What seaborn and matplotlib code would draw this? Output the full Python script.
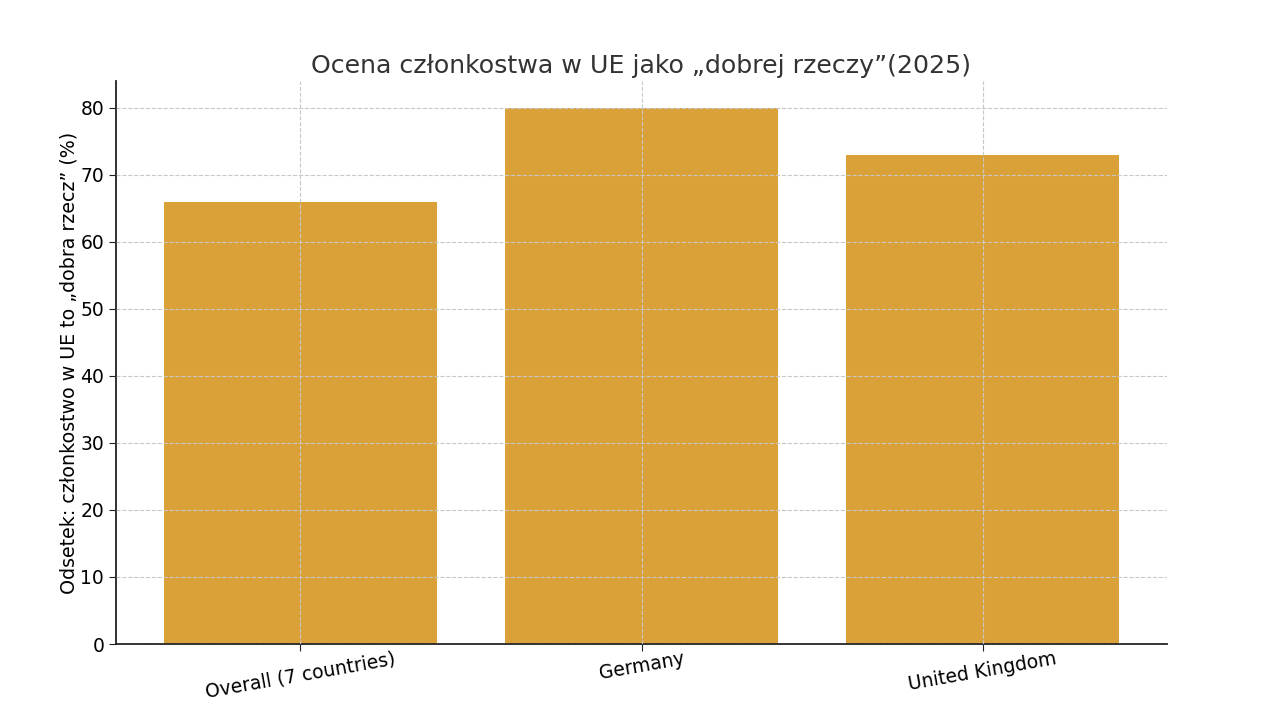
import matplotlib
matplotlib.use("Agg")
import matplotlib.pyplot as plt
import seaborn as sns
import pandas as pd

categories = ["Overall (7 countries)", "Germany", "United Kingdom"]
values = [66, 80, 73]

df = pd.DataFrame({"category": categories, "value": values})

sns.set_style("white")
plt.rcParams["font.family"] = ["DejaVu Sans"]

fig = plt.figure(figsize=(12.76, 7.19), dpi=100)
ax = fig.add_axes([116 / 1276, 1 - 644 / 719, (1167 - 116) / 1276, (644 - 81) / 719])

sns.barplot(data=df, x="category", y="value", color="#dba139", saturation=1,
            width=0.8, linewidth=0, ax=ax)

ax.set_xlim(-0.54, 2.54)
ax.set_ylim(0, 84)
ax.set_title("Ocena członkostwa w UE jako „dobrej rzeczy”(2025)", fontsize=18.2,
             color="#333333", pad=6)
ax.set_xlabel("")
ax.set_ylabel("Odsetek: członkostwo w UE to „dobra rzecz” (%)", fontsize=13.7,
              color="black", labelpad=1)
ax.tick_params(axis="both", labelsize=13.5, length=5, color="#222222",
               labelcolor="black", left=True, bottom=True)
ax.tick_params(axis="x", pad=-1)
plt.setp(ax.get_xticklabels(), rotation=10)
ax.set_axisbelow(False)
ax.grid(True, linestyle="--", color="#c8c8c8", linewidth=0.8)
sns.despine(ax=ax)
for s in ["left", "bottom"]:
    ax.spines[s].set_color("#222222")
    ax.spines[s].set_linewidth(1.3)

fig.savefig("out.png", dpi=100)
